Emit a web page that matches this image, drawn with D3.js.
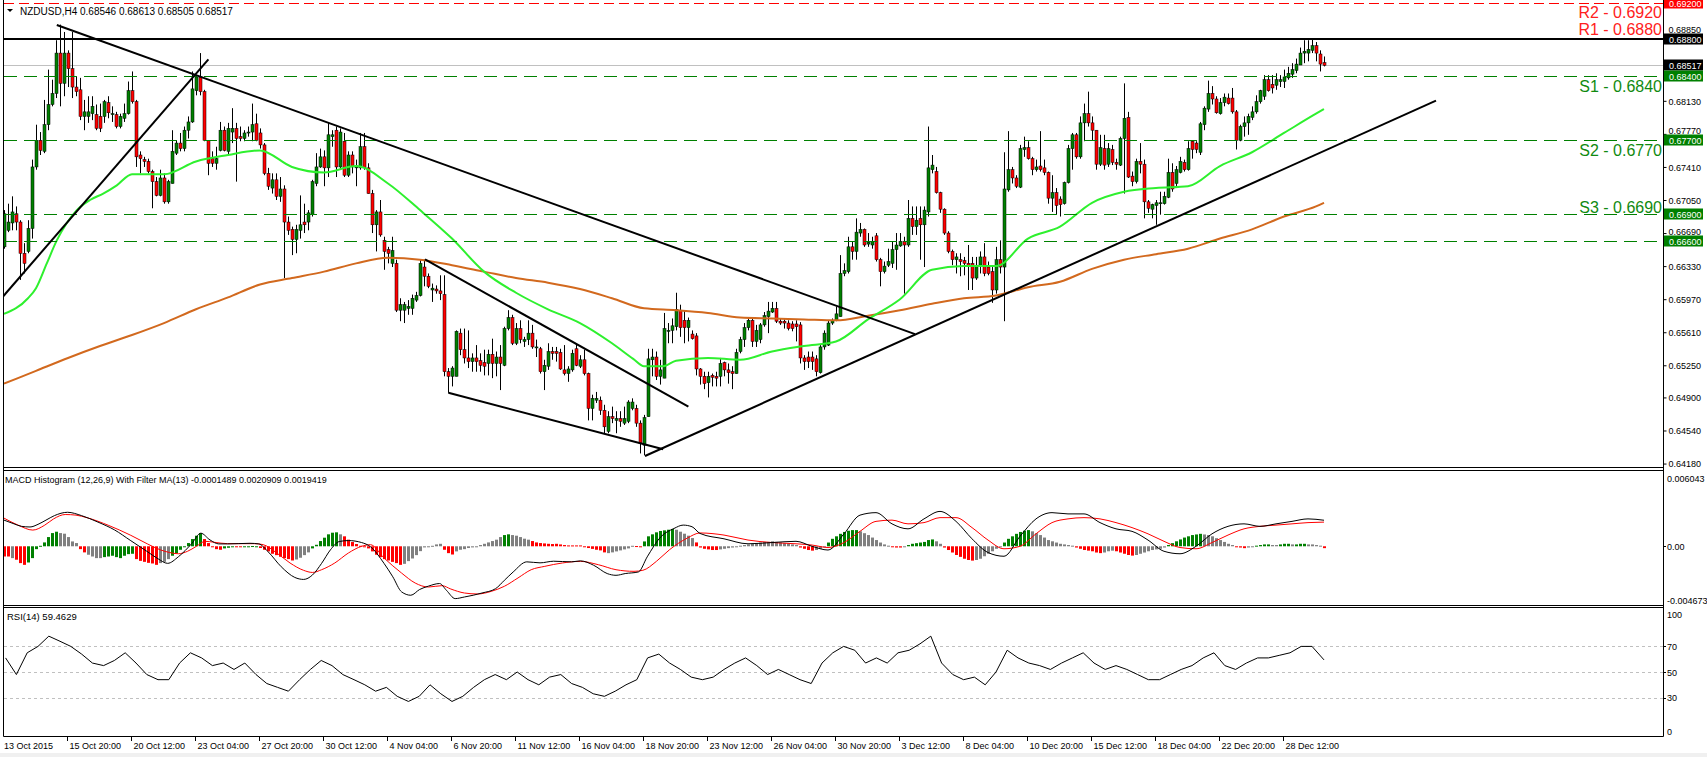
<!DOCTYPE html>
<html><head><meta charset="utf-8"><title>NZDUSD H4</title>
<script src="https://cdn.jsdelivr.net/npm/d3@7/dist/d3.min.js"></script>
<style>
html,body{margin:0;padding:0;background:#fff;overflow:hidden}
svg{display:block}
text{font-family:"Liberation Sans",Arial,Helvetica,sans-serif}
</style></head><body>
<svg id="chart" width="1707" height="757"></svg>
<script>
// ---------------- DATA ----------------
const symbolTitle = "NZDUSD,H4";
const lastOHLC = [0.68546, 0.68613, 0.68505, 0.68517];
// OHLC in pips (price * 10000), one entry per H4 bar
const openPips = [6654,6672,6680,6690,6681,6647,6649,6674,6741,6770,6758,6787,6809,6821,6865,6832,6865,6848,6828,6825,6796,6796,6799,6798,6796,6796,6811,6798,6798,6785,6794,6799,6824,6812,6754,6749,6747,6736,6725,6710,6729,6703,6723,6756,6767,6761,6781,6790,6824,6839,6823,6770,6750,6745,6759,6781,6758,6779,6783,6774,6772,6778,6779,6788,6778,6765,6734,6718,6727,6709,6717,6681,6673,6662,6672,6681,6681,6689,6723,6741,6752,6740,6774,6781,6741,6769,6732,6754,6740,6740,6763,6740,6712,6678,6692,6661,6651,6636,6636,6585,6585,6587,6587,6596,6601,6632,6622,6607,6608,6606,6602,6518,6513,6513,6560,6542,6533,6529,6533,6530,6528,6527,6537,6527,6534,6525,6565,6577,6549,6565,6551,6553,6560,6545,6543,6518,6524,6540,6540,6539,6520,6516,6520,6543,6524,6531,6516,6478,6487,6487,6476,6453,6469,6465,6467,6462,6464,6478,6478,6462,6438,6469,6531,6534,6513,6511,6563,6563,6567,6585,6574,6566,6559,6557,6521,6513,6506,6514,6513,6513,6528,6520,6518,6516,6540,6553,6566,6574,6551,6553,6569,6578,6583,6587,6573,6573,6571,6570,6570,6569,6533,6534,6534,6532,6517,6545,6547,6571,6574,6578,6625,6627,6654,6649,6669,6673,6657,6656,6666,6640,6627,6634,6636,6651,6655,6660,6656,6685,6676,6685,6678,6692,6738,6736,6713,6695,6669,6649,6640,6640,6639,6636,6636,6620,6634,6643,6632,6627,6607,6640,6632,6716,6738,6729,6719,6760,6762,6750,6738,6742,6740,6735,6707,6713,6706,6701,6724,6761,6776,6752,6789,6799,6789,6781,6744,6761,6744,6760,6746,6743,6772,6795,6731,6725,6747,6744,6703,6695,6699,6701,6701,6708,6735,6723,6735,6746,6738,6769,6767,6757,6787,6804,6821,6815,6799,6811,6816,6816,6801,6770,6785,6789,6795,6801,6812,6818,6836,6831,6830,6834,6834,6838,6842,6846,6852,6865,6865,6868,6873,6864,6854.6];
const highPips = [6694,6701,6709,6698,6683,6658,6683,6749,6787,6779,6814,6847,6836,6879,6896,6888,6868,6888,6839,6838,6814,6818,6818,6809,6810,6814,6818,6807,6801,6799,6810,6834,6845,6814,6758,6752,6750,6738,6730,6738,6734,6727,6781,6770,6778,6785,6796,6845,6841,6865,6825,6770,6758,6763,6790,6785,6789,6805,6789,6785,6781,6785,6810,6799,6783,6767,6740,6734,6734,6730,6721,6687,6676,6678,6710,6701,6694,6727,6756,6761,6759,6789,6781,6785,6783,6778,6758,6758,6749,6778,6778,6745,6716,6694,6705,6665,6654,6665,6640,6598,6594,6596,6602,6605,6640,6640,6625,6614,6612,6623,6623,6522,6524,6563,6565,6565,6563,6538,6547,6538,6542,6542,6554,6540,6547,6567,6585,6580,6571,6574,6556,6574,6569,6553,6545,6531,6549,6545,6545,6543,6547,6524,6542,6549,6536,6542,6517,6493,6496,6491,6482,6475,6480,6475,6475,6480,6487,6489,6482,6465,6471,6543,6543,6540,6531,6582,6571,6576,6604,6591,6585,6577,6563,6560,6522,6518,6518,6516,6518,6533,6529,6527,6524,6543,6556,6571,6576,6576,6569,6571,6583,6594,6594,6594,6576,6575,6574,6573,6574,6572,6536,6540,6540,6536,6547,6563,6574,6576,6589,6645,6636,6665,6660,6685,6680,6674,6669,6665,6669,6642,6638,6652,6660,6669,6669,6665,6705,6698,6698,6698,6698,6785,6754,6741,6714,6696,6671,6651,6647,6647,6643,6656,6643,6643,6649,6658,6638,6632,6654,6661,6757,6780,6741,6732,6765,6774,6769,6752,6749,6780,6749,6736,6732,6718,6709,6725,6765,6778,6778,6796,6810,6823,6796,6781,6776,6776,6767,6765,6750,6774,6832,6801,6736,6750,6767,6749,6705,6701,6705,6714,6714,6750,6745,6742,6752,6749,6769,6770,6769,6790,6807,6835,6829,6818,6816,6821,6821,6827,6803,6787,6796,6799,6807,6819,6825,6841,6841,6841,6843,6841,6847,6850,6854,6859,6871,6879,6879,6881,6877,6868,6861.3];
const lowPips = [6652,6670,6672,6672,6618,6625,6647,6663,6738,6754,6756,6781,6807,6816,6807,6818,6828,6816,6818,6792,6781,6789,6792,6781,6779,6789,6794,6790,6783,6783,6790,6798,6810,6741,6734,6741,6734,6696,6709,6709,6701,6701,6723,6754,6758,6758,6772,6789,6819,6819,6769,6732,6741,6738,6758,6758,6754,6767,6725,6769,6769,6774,6769,6769,6761,6732,6716,6712,6705,6703,6620,6667,6645,6647,6663,6669,6672,6687,6720,6740,6720,6730,6763,6730,6740,6730,6730,6734,6720,6738,6738,6712,6669,6649,6665,6629,6636,6632,6583,6573,6571,6580,6580,6594,6600,6611,6609,6594,6603,6596,6513,6495,6502,6513,6536,6527,6522,6518,6518,6518,6514,6514,6511,6513,6498,6524,6563,6547,6547,6549,6545,6547,6543,6534,6516,6498,6520,6531,6529,6520,6514,6507,6518,6524,6522,6514,6465,6465,6484,6471,6451,6451,6462,6451,6458,6460,6462,6476,6458,6429,6427,6469,6513,6509,6504,6511,6549,6549,6563,6556,6549,6551,6553,6514,6504,6499,6490,6502,6502,6502,6513,6505,6499,6516,6538,6545,6563,6545,6545,6549,6567,6560,6582,6571,6569,6565,6563,6562,6551,6527,6520,6522,6520,6513,6516,6542,6546,6569,6573,6578,6622,6625,6640,6640,6665,6654,6654,6652,6638,6611,6625,6632,6631,6629,6654,6603,6654,6667,6667,6640,6632,6687,6734,6712,6691,6667,6647,6634,6625,6622,6623,6607,6607,6618,6625,6622,6623,6593,6603,6625,6573,6714,6723,6718,6718,6752,6749,6732,6736,6736,6732,6701,6692,6689,6687,6700,6723,6738,6750,6750,6769,6785,6770,6738,6742,6738,6741,6743,6738,6742,6712,6729,6720,6723,6734,6685,6691,6685,6678,6689,6700,6707,6714,6720,6734,6736,6737,6750,6756,6754,6781,6801,6809,6799,6798,6807,6809,6799,6760,6769,6774,6776,6792,6799,6810,6814,6823,6821,6825,6828,6827,6836,6838,6843,6852,6854,6856,6865,6856,6845,6850.5];
const closePips = [6690,6681,6692,6681,6647,6636,6674,6741,6770,6759,6787,6809,6821,6865,6832,6865,6848,6828,6823,6796,6801,6801,6807,6783,6783,6812,6800,6799,6785,6796,6799,6824,6812,6752,6750,6747,6736,6725,6710,6729,6703,6725,6758,6767,6761,6781,6790,6826,6839,6823,6770,6745,6745,6750,6781,6759,6783,6783,6772,6772,6778,6779,6787,6770,6765,6734,6720,6727,6709,6717,6681,6672,6662,6673,6678,6678,6691,6725,6741,6752,6740,6776,6776,6741,6779,6732,6754,6741,6742,6763,6740,6712,6678,6692,6667,6649,6647,6650,6585,6591,6591,6589,6598,6601,6636,6622,6611,6609,6606,6603,6518,6513,6522,6562,6542,6533,6529,6533,6529,6525,6524,6537,6527,6534,6527,6565,6577,6549,6565,6553,6553,6560,6545,6545,6518,6525,6540,6538,6538,6521,6516,6521,6538,6525,6531,6516,6478,6489,6489,6476,6458,6469,6467,6467,6464,6467,6485,6485,6462,6440,6468,6532,6534,6513,6520,6565,6563,6568,6586,6566,6566,6574,6554,6521,6513,6505,6513,6512,6511,6527,6520,6517,6516,6539,6553,6566,6574,6551,6563,6569,6579,6584,6587,6573,6571,6571,6565,6565,6567,6533,6529,6529,6529,6518,6545,6560,6571,6574,6581,6625,6628,6654,6649,6670,6673,6656,6659,6660,6640,6627,6633,6638,6651,6656,6660,6656,6685,6676,6683,6678,6694,6740,6743,6713,6695,6669,6649,6640,6643,6638,6636,6633,6620,6634,6643,6625,6625,6607,6640,6632,6717,6738,6729,6720,6761,6762,6750,6738,6741,6738,6735,6707,6713,6699,6700,6724,6761,6776,6752,6789,6799,6789,6781,6744,6762,6743,6761,6746,6744,6772,6794,6730,6725,6747,6744,6703,6696,6700,6702,6702,6709,6735,6717,6738,6747,6738,6761,6760,6760,6788,6805,6821,6815,6800,6811,6817,6810,6801,6770,6785,6789,6796,6801,6812,6824,6836,6824,6827,6836,6836,6839,6843,6847,6853,6865,6867,6869,6873,6865,6853,6851.7];

// moving averages: [bar index, pips]
const maFastPts = [[0,6581],[6,6598],[8,6609],[10.7,6636],[13.2,6661],[15.7,6680],[18.2,6694],[21.5,6705],[24.8,6712],[28.2,6721],[32,6733],[40,6733],[48,6747],[56,6754],[64,6759],[72,6741],[80,6735],[88,6742],[96,6723],[104,6694],[112,6663],[120,6627],[128,6604],[136,6586],[144,6571],[152,6549],[157.3,6532],[160,6524],[164.8,6524],[168,6530],[176,6533],[184,6531],[192,6540],[200,6546],[208,6551],[216,6575],[224,6597],[232,6629],[240,6633],[248,6633],[256,6663],[264,6676],[272,6702],[280,6714],[288,6718],[296,6720],[304,6742],[312,6757],[320,6778],[328,6799],[330,6804]];
const maSlowPts = [[0,6505],[8,6519],[16,6533],[24,6546],[32,6558],[40,6571],[48,6586],[56,6599],[64,6613],[72,6620],[80,6627],[88,6636],[96,6642],[104,6640],[112,6634],[120,6627],[128,6620],[136,6615],[144,6608],[152,6598],[160,6587],[168,6585],[176,6582],[184,6577],[192,6576],[200,6575],[208,6574],[216,6579],[224,6585],[232,6592],[240,6598],[248,6601],[256,6610],[264,6616],[272,6630],[280,6640],[288,6646],[296,6652],[304,6663],[312,6673],[320,6687],[328,6698],[330,6702]];

// drawn trend lines: endpoints [bar index, price]
const trendLines = [
  [[-1,0.65961],[51.1,0.68582]],
  [[13.2,0.68956],[227.75,0.6559]],
  [[105.25,0.66404],[171.1,0.64799]],
  [[111.1,0.64951],[164.8,0.64335]],
  [[160.25,0.64262],[358,0.68132]]
];
// support / resistance levels
const resistanceLevels = [0.6920, 0.6880];
const resistanceNames = ["R2 - 0.6920", "R1 - 0.6880"];
const supportLevels = [0.6840, 0.6770, 0.6690, 0.6660];
const supportNames = ["S1 - 0.6840", "S2 - 0.6770", "S3 - 0.6690", ""];

// price axis tick labels (0.68490 is hidden behind the bid marker in the original)
const priceTicks = [0.6418,0.6454,0.6490,0.6525,0.6561,0.6597,0.6633,0.6669,0.6705,0.6741,0.6777,0.6813,0.6885];

// MACD histogram (x 1e-4) and bar colour code (g=green, r=red, n=grey)
const macdHist = [-8.2,-8.2,-9.5,-10.8,-13.5,-14.9,-13,-9.5,-2.3,0.4,3.1,7.4,10.6,11.7,10.6,10.1,7.4,3.9,2.6,-2.3,-4.9,-6.8,-8.2,-9.5,-9.5,-8.7,-8.2,-7.6,-8.7,-9.5,-7.6,-6.3,-6,-10.3,-11.7,-12.5,-13.3,-13.8,-14.9,-13.5,-12.5,-10.3,-7.6,-5.5,-2.8,0,2.6,5.8,8.5,10.6,5.8,2.6,-0.6,-2.3,-2.8,-1.7,-1.2,-0.6,-0.4,-0.4,0,0,0.2,0,-1.4,-2.8,-4.1,-6,-7.1,-8.4,-9.5,-10.3,-11.4,-10.6,-9.2,-7.1,-4.9,-1.7,1.2,4.2,6.9,9.6,10.9,11.2,9.6,8,5.3,3.4,1.8,0.4,0,-1.7,-4.1,-6.8,-8.7,-10.3,-11.4,-12.5,-13.5,-14.9,-14.1,-11.9,-9.8,-7.1,-3.9,-0.9,-0.4,0.4,1.5,2,-2.8,-5.5,-6.6,-4.1,-2.8,-2.3,-1.4,-0.9,0,1,2,3.1,4.2,5.3,7.4,9,9.6,9,8.5,7.4,6.1,5.3,4.2,3.1,2.6,2.3,2,1.8,2,1.5,1,0.7,0.7,0.7,0.7,0,-1.4,-2.1,-2.8,-3.3,-4.9,-5.5,-4.9,-4.1,-3.3,-2.5,-1.7,0.4,0.2,-0.4,3.9,8,9.6,11.2,12.3,12.8,13.3,13.9,13.3,11.7,10.1,8.5,6.6,3.1,-1,-2,-2.5,-3,-3,-2.5,-2,-1.5,-1,-0.5,0.5,1,1.5,2,2.5,3,3.5,3.5,4,3.5,3,2.5,2,1.5,1,-1,-2,-3,-3.5,-3,-2,-0.5,3,6,8,10,11.5,12.5,13,13,12,10.5,9,7,5,3,1.5,0.5,-0.5,-1,-1,-0.5,1,2,2.5,3,3.5,5,5.5,4,2,-1,-3,-5,-7,-8.5,-10,-11,-11.5,-11,-10,-8,-6,-4,-2,-0.5,3,6,8,10,11.5,12.5,13,12,10.5,9,7,5,4,3,2,1.5,1,0.5,-1,-2,-3,-3.5,-4,-5,-5.5,-5,-4,-3.5,-4,-5,-6,-7,-7.5,-7,-6,-5,-4,-3,-2.5,-2,-1,1,2.5,4,5.5,7,8,9,9.5,10,9.5,9,8,6.5,5,3.5,2,1,-0.5,-1,-1.5,-1,-0.5,0.5,1,1.5,1.5,1,1,1.5,2,2,1.5,1.5,2,2,1.5,1.5,1,0.5,-1.489];
const macdHistColor = ("rrnrrrgggg"+"ggggnnnnnr"+"rnnnnggggg"+"gggrrrrrrn"+"nngggggggg"+"rrrrrgggrr"+"ggggrrrrrr"+"rrrnnnnggg"+"ggggnrrrrr"+"rrrrrrrrrr"+"nnnnnnnnnn"+"rrrnnnnnnn"+"nnnnnggnnn"+"nnrrrrrrrr"+"rrrrrrrrrr"+"rnnnnnnnrr"+"ggggggggnn"+"nnnr"+"rrrrrnnnnn"+"nnnnnnnnnn"+"nnnnnrrrrn"+"nngggggggg"+"nnnnnnnnrr"+"rngggggggn"+"nrrrrrrrrn"+"nnnnnngggg"+"gggnnnnnnn"+"nnnnrrrrrr"+"rnnnrrrrrn"+"nnnnnnnggg"+"ggggggnnnn"+"nnnnrrrnng"+"gggnngggng"+"ggnnnnr").split("");
// MACD main line and signal line: [bar index, value x 1e-4]
const macdMainPts = [[0,21],[2.5,18],[4.4,16],[6.5,15.5],[8.5,17.6],[10.5,21],[12.6,24.6],[15.9,27.3],[19.4,24.6],[23.5,19.4],[27.6,13.2],[31.7,4.5],[35.7,-4],[38.5,-10],[40.9,-13.7],[43.6,-8.4],[47,2.4],[49.2,10.5],[51.5,5.1],[53.7,1.9],[55.9,1.9],[61.5,2.4],[63.7,1.9],[66,-4.3],[69.3,-16.4],[72.7,-25],[74.9,-26.6],[77.1,-23.1],[79.4,-13.7],[81.6,-2.9],[83.8,3.8],[86.1,4.6],[89.4,3],[91.6,-0.3],[95,-13.7],[97.2,-24.5],[99.4,-36.6],[101.7,-39.3],[103.9,-34.7],[106.1,-32],[108.9,-29.9],[110.6,-35.3],[112.8,-42],[115.1,-40.7],[117.3,-39.3],[119.5,-37.5],[122.9,-34],[125.1,-27.3],[127.3,-20.6],[130.7,-12.5],[134,-13.3],[137.4,-12],[141.9,-12.5],[144.1,-11.7],[147.4,-15.2],[150.8,-21.9],[153,-23.3],[155.3,-21.9],[158.6,-20.6],[160.8,-8.5],[164.2,7.6],[167.5,14.3],[169.8,17],[172,15.7],[174,10.3],[180,6],[186,2],[192,3],[198,4],[202,0],[206,-3],[210,10],[214,25],[218,27],[222,18],[226,14],[230,22],[234,28],[238,20],[242,6],[246,-5],[250,-8],[254,8],[258,22],[262,27],[266,26],[270,26],[274,19],[278,14],[282,12],[286,5],[290,-4],[294,-6],[298,0],[302,10],[306,16],[310,18],[314,16],[318,18],[322,20],[326,22],[330,20.9]];
const macdSignalPts = [[0,22.6],[3.5,17],[7.2,13],[10.2,17],[12.4,22],[15.3,25.5],[18,25],[20.8,22.9],[26.2,16.7],[31.7,8.8],[35.8,2],[39.2,-3],[41.4,-5],[43.6,-6],[45.9,-4],[48.1,0],[50.3,4],[52.6,3.2],[55.9,2.1],[62.6,2.1],[64.8,1.3],[68.2,-5.4],[71.5,-13.4],[74.9,-19.3],[77.1,-21],[79.4,-18.8],[82.7,-13.4],[86.1,-5.4],[89.4,0],[91.6,1.3],[95,-9.4],[99.4,-21.5],[102.8,-29.5],[106.1,-32.7],[109.5,-31.6],[111.7,-34.3],[115.1,-37.5],[118.4,-38.3],[121.8,-36.2],[125.1,-32.1],[128.5,-25.4],[131.8,-18.8],[135.2,-16.1],[139.6,-13.4],[144.1,-12.1],[148.6,-14.8],[153,-18.8],[157.5,-20.1],[159.7,-19.3],[163.1,-12.1],[166.4,-2.7],[170.9,6.7],[174,10.7],[180,9],[186,5],[192,3],[198,2],[202,1],[206,-1],[210,3],[214,12],[218,20],[222,21],[226,18],[230,19],[234,23],[238,23],[242,15],[246,5],[250,-2],[254,0],[258,10],[262,19],[266,22],[270,23],[274,22],[278,19],[282,15],[286,10],[290,4],[294,-1],[298,-2],[302,3],[306,9],[310,14],[314,16],[318,17],[322,18],[326,19],[330,19.4]];
const macdMax = 0.006043, macdMin = -0.004673;
const macdLegend = [-0.0001489, 0.0020909, 0.0019419];

// RSI(14): [bar index, value]
const rsiPts = [[0.4,61],[3.1,48],[5.8,65],[8.5,70],[11.2,78],[14,74],[16.7,70],[19.4,64],[22.1,57],[24.9,55],[27.6,59],[30.3,65],[33,57],[35.7,48],[38.5,44],[41.2,44],[43.9,57],[46.6,65],[49.4,61],[52.1,55],[54.8,57],[57.5,52],[60.2,57],[63,48],[65.7,41],[68.4,38],[71.1,35],[73.9,44],[76.6,52],[79.3,59],[82,55],[84.7,48],[87.5,44],[90.2,40],[92.9,35],[95.6,38],[98.3,31],[101.1,27],[103.8,31],[106.5,40],[109.2,33],[112,27],[114.7,31],[117.4,38],[120.1,44],[122.8,48],[125.6,44],[128.3,50],[131,44],[133.7,40],[136.4,46],[139.2,48],[141.9,41],[144.6,38],[147.3,33],[150.1,31],[152.8,35],[155.5,40],[158.2,44],[160.9,61],[163.7,64],[166.4,57],[169.1,52],[171.8,46],[174.6,44],[177.3,46],[180,52],[182.7,57],[185.4,61],[188.2,55],[190.9,48],[193.6,52],[196.3,48],[199,44],[201.8,41],[204.5,57],[207.2,65],[209.9,70],[212.7,67],[215.4,57],[218.1,61],[220.8,57],[223.5,65],[226.3,67],[229,72],[231.7,78],[234.4,57],[237.2,48],[239.9,44],[242.6,46],[245.3,40],[248,50],[250.8,67],[253.5,61],[256.2,57],[258.9,55],[261.6,52],[264.4,57],[267.1,61],[269.8,65],[272.5,57],[275.3,52],[278,55],[280.7,52],[283.4,48],[286.1,44],[288.9,44],[291.6,48],[294.3,52],[297,55],[299.8,61],[302.5,65],[305.2,55],[307.9,52],[310.6,57],[313.4,61],[316.1,61],[318.8,63],[321.5,65],[324.3,70],[327,70],[330,59.4629]];
const rsiLevels = [70, 50, 30];
const rsiAxisTicks = [100, 70, 50, 30, 0];

// time axis: bar index and label
const timeTickBars = [16,32,48,64,80,96,112,128,144,160,176,192,208,224,240,256,272,288,304,320];
const timeTickLabels = ["15 Oct 20:00","20 Oct 12:00","23 Oct 04:00","27 Oct 20:00","30 Oct 12:00","4 Nov 04:00","6 Nov 20:00","11 Nov 12:00","16 Nov 04:00","18 Nov 20:00","23 Nov 12:00","26 Nov 04:00","30 Nov 20:00","3 Dec 12:00","8 Dec 04:00","10 Dec 20:00","15 Dec 12:00","18 Dec 04:00","22 Dec 20:00","28 Dec 12:00"];
const firstDateLabel = "13 Oct 2015";

// ---------------- DRAWING ----------------
const svg = d3.select("#chart");
const PL = 4, PR = 1663;
const x = d3.scaleLinear().domain([0, (PR - PL) / 4]).range([PL, PR]);
const yP = d3.scaleLinear().domain([0.64137, 0.69228]).range([467.5, 0]);
const yM = d3.scaleLinear().domain([macdMin, macdMax]).range([604.5, 471]);
const yR = d3.scaleLinear().domain([0, 100]).range([736, 608]);
const cx = i => Math.round(x(i));
const fmt5 = d3.format(".5f");

svg.append("rect").attr("x",0).attr("y",0).attr("width",1707).attr("height",757).attr("fill","#fff");
svg.append("rect").attr("x",0).attr("y",753).attr("width",1707).attr("height",4).attr("fill","#f0f0f0");

const defs = svg.append("defs");
function mkClip(id, y0, y1){ defs.append("clipPath").attr("id",id).append("rect").attr("x",PL).attr("y",y0).attr("width",PR-PL).attr("height",y1-y0); }
mkClip("cp", 0, 467); mkClip("cm", 471, 605); mkClip("cr", 608, 736);

// ----- price panel -----
const gP = svg.append("g").attr("clip-path","url(#cp)");
gP.append("line").attr("x1",PL).attr("x2",PR)
  .attr("y1",Math.round(yP(lastOHLC[3]))+0.5).attr("y2",Math.round(yP(lastOHLC[3]))+0.5)
  .attr("stroke","#c0c0c0").attr("stroke-width",1);

const bars = closePips.map((c,i)=>({i, o:openPips[i]/1e4, h:highPips[i]/1e4, l:lowPips[i]/1e4, c:c/1e4}));
gP.selectAll("line.wick").data(bars).join("line").attr("class","wick")
  .attr("x1",d=>cx(d.i)+0.5).attr("x2",d=>cx(d.i)+0.5)
  .attr("y1",d=>yP(Math.max(d.h,d.o,d.c))).attr("y2",d=>yP(Math.min(d.l,d.o,d.c)))
  .attr("stroke","#000").attr("stroke-width",1);
gP.selectAll("rect.body").data(bars).join("rect").attr("class","body")
  .attr("x",d=>cx(d.i)-1).attr("width",3)
  .attr("y",d=>yP(Math.max(d.o,d.c)))
  .attr("height",d=>Math.max(1,Math.abs(yP(d.o)-yP(d.c))))
  .attr("fill",d=>d.c>=d.o?"#008000":"#ff0000")
  .attr("stroke","#000").attr("stroke-width",0.5);

const maLine = d3.line().x(d=>x(d[0])).y(d=>yP(d[1]/1e4)).curve(d3.curveMonotoneX);
gP.append("path").attr("d",maLine(maSlowPts)).attr("fill","none").attr("stroke","#d2691e").attr("stroke-width",2);
gP.append("path").attr("d",maLine(maFastPts)).attr("fill","none").attr("stroke","#2ef02e").attr("stroke-width",2);

gP.selectAll("line.sup").data(supportLevels).join("line").attr("class","sup")
  .attr("x1",PL).attr("x2",PR)
  .attr("y1",d=>Math.round(yP(d))+0.5).attr("y2",d=>Math.round(yP(d))+0.5)
  .attr("stroke","#008000").attr("stroke-width",1).attr("stroke-dasharray","13,7");
gP.append("line").attr("x1",PL).attr("x2",PR)
  .attr("y1",Math.round(yP(resistanceLevels[0]))+0.5).attr("y2",Math.round(yP(resistanceLevels[0]))+0.5)
  .attr("stroke","#ff0000").attr("stroke-width",1).attr("stroke-dasharray","10,5");
gP.append("line").attr("x1",PL).attr("x2",PR)
  .attr("y1",Math.round(yP(resistanceLevels[1]))).attr("y2",Math.round(yP(resistanceLevels[1])))
  .attr("stroke","#000").attr("stroke-width",2);

gP.selectAll("line.trend").data(trendLines).join("line").attr("class","trend")
  .attr("x1",d=>x(d[0][0])).attr("y1",d=>yP(d[0][1]))
  .attr("x2",d=>x(d[1][0])).attr("y2",d=>yP(d[1][1]))
  .attr("stroke","#000").attr("stroke-width",2);

resistanceNames.forEach((t,k)=>{
  svg.append("text").attr("x",1662).attr("y",k===0? yP(resistanceLevels[0])+15 : yP(resistanceLevels[1])-4)
    .attr("text-anchor","end").attr("font-size",16).attr("fill","#ff2020").text(t);
});
supportNames.forEach((t,k)=>{
  if(!t) return;
  const yy = yP(supportLevels[k]);
  svg.append("text").attr("x",1662).attr("y", k===2 ? yy-1 : yy+16)
    .attr("text-anchor","end").attr("font-size",16).attr("fill","#108a10").text(t);
});

// header
svg.append("path").attr("d","M7,9L13,9L10,12Z").attr("fill","#000");
svg.append("text").attr("x",20).attr("y",14.5).attr("font-size",10).attr("fill","#000")
  .text(symbolTitle + "  " + lastOHLC.map(fmt5).join(" "));

// ----- MACD panel -----
const gM = svg.append("g").attr("clip-path","url(#cm)");
const histColors = {g:"#008000", r:"#ff0000", n:"#808080"};
gM.selectAll("rect.h").data(macdHist).join("rect").attr("class","h")
  .attr("x",(d,i)=>cx(i)-1).attr("width",3)
  .attr("y",d=>Math.min(yM(d/1e4),yM(0)))
  .attr("height",d=>Math.max(1,Math.abs(yM(d/1e4)-yM(0))))
  .attr("fill",(d,i)=>histColors[macdHistColor[i]]);
const mLine = d3.line().x(d=>x(d[0])).y(d=>yM(d[1]/1e4)).curve(d3.curveMonotoneX);
gM.append("path").attr("d",mLine(macdSignalPts)).attr("fill","none").attr("stroke","#ff0000").attr("stroke-width",1);
gM.append("path").attr("d",mLine(macdMainPts)).attr("fill","none").attr("stroke","#000").attr("stroke-width",1);
svg.append("text").attr("x",5).attr("y",483).attr("font-size",9).attr("fill","#000")
  .text("MACD Histogram (12,26,9) With Filter MA(13) " + macdLegend.map(v=>v.toFixed(7)).join(" "));

// ----- RSI panel -----
const gR = svg.append("g").attr("clip-path","url(#cr)");
gR.selectAll("line.lvl").data(rsiLevels).join("line").attr("class","lvl")
  .attr("x1",PL).attr("x2",PR)
  .attr("y1",d=>Math.round(yR(d))+0.5).attr("y2",d=>Math.round(yR(d))+0.5)
  .attr("stroke","#c0c0c0").attr("stroke-width",1).attr("stroke-dasharray","3,3");
const rLine = d3.line().x(d=>x(d[0])).y(d=>yR(d[1]));
gR.append("path").attr("d",rLine(rsiPts)).attr("fill","none").attr("stroke","#000").attr("stroke-width",1);
svg.append("text").attr("x",7).attr("y",620).attr("font-size",9.5).attr("fill","#000")
  .text("RSI(14) " + rsiPts[rsiPts.length-1][1].toFixed(4));

// ----- frames -----
const frame = svg.append("g").attr("stroke","#000").attr("stroke-width",1).attr("fill","none");
[467.5, 470.5, 605.5, 607.5, 736.5].forEach(yy=>{
  frame.append("line").attr("x1",3.5).attr("x2",PR+0.5).attr("y1",yy).attr("y2",yy);
});
frame.append("line").attr("x1",3.5).attr("x2",3.5).attr("y1",0).attr("y2",736.5);
frame.append("line").attr("x1",PR+0.5).attr("x2",PR+0.5).attr("y1",0).attr("y2",736.5);

// ----- price markers (coloured boxes on the axis) -----
const markers = [
  {v:resistanceLevels[0], bg:"#ff0000"},
  {v:resistanceLevels[1], bg:"#000000"},
  {v:lastOHLC[3], bg:"#000000"},
  {v:supportLevels[0], bg:"#008000"},
  {v:supportLevels[1], bg:"#008000"},
  {v:supportLevels[2], bg:"#008000"},
  {v:supportLevels[3], bg:"#008000"}
];
const markerY = markers.map(m=>Math.round(yP(m.v)));

// ----- price axis -----
const axP = svg.append("g").attr("transform",`translate(${PR+0.5},0)`)
  .call(d3.axisRight(yP).tickValues(priceTicks).tickSize(3).tickFormat(fmt5));
axP.select(".domain").remove();
axP.selectAll("line").attr("stroke","#000");
axP.selectAll("text").attr("font-size",9).attr("font-family","Liberation Sans, Arial, sans-serif").attr("fill","#000").attr("x",5)
  .attr("dy", function(d){
    const ty = yP(d);
    let shift = 0;
    markerY.forEach(my=>{ if (ty < my && my - ty < 10) shift = Math.min(shift, (my - 6) - 4 - ty); });
    return (shift + 3.2) + "px";
  });

const mk = svg.selectAll("g.mk").data(markers).join("g").attr("class","mk")
  .attr("transform",(d,k)=>`translate(${PR+1},${markerY[k]})`);
mk.append("rect").attr("x",0).attr("y",-5.5).attr("width",39).attr("height",11).attr("fill",d=>d.bg);
mk.append("text").attr("x",5).attr("y",3.5).attr("font-size",9).attr("fill","#fff").text(d=>fmt5(d.v));

// ----- MACD axis -----
const macdAxisVals = [macdMax, 0, macdMin];
const macdAxisText = ["0.006043","0.00","-0.004673"];
const macdAxisDy = [7, 0, -4];
macdAxisVals.forEach((v,k)=>{
  svg.append("text").attr("x",PR+4).attr("y",yM(v)+macdAxisDy[k]+3.5).attr("font-size",9).attr("fill","#000").text(macdAxisText[k]);
});
svg.append("line").attr("x1",PR+0.5).attr("x2",PR+3).attr("y1",Math.round(yM(0))+0.5).attr("y2",Math.round(yM(0))+0.5).attr("stroke","#000");

// ----- RSI axis -----
rsiAxisTicks.forEach(v=>{
  const off = v===100 ? 6 : (v===0 ? -5 : 0);
  svg.append("text").attr("x",PR+4).attr("y",yR(v)+off+3.5).attr("font-size",9).attr("fill","#000").text(v);
  if(v!==100 && v!==0) svg.append("line").attr("x1",PR+0.5).attr("x2",PR+3).attr("y1",Math.round(yR(v))+0.5).attr("y2",Math.round(yR(v))+0.5).attr("stroke","#000");
});

// ----- time axis -----
const gT = svg.append("g");
gT.append("text").attr("x",4).attr("y",749).attr("font-size",9).attr("fill","#000").text(firstDateLabel);
timeTickBars.forEach((b,k)=>{
  const xx = cx(b) - 0.5;
  gT.append("line").attr("x1",xx).attr("x2",xx).attr("y1",737).attr("y2",741).attr("stroke","#000");
  gT.append("text").attr("x",xx+2).attr("y",749).attr("font-size",9).attr("fill","#000").text(timeTickLabels[k]);
});
</script>
</body></html>
